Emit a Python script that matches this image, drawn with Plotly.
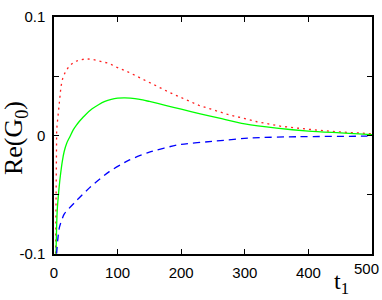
import plotly.graph_objects as go

# Red dotted curve
t_red = [2, 2.5, 3, 3.5, 4.2, 5.8, 7.4, 8.5, 11, 13.6, 18, 24, 32, 40, 50, 61, 71, 87, 97,
         113, 131, 149, 183, 228, 272, 319, 358, 410, 450, 500]
v_red = [-0.13, -0.08, -0.045, -0.02, 0.005, 0.0138, 0.022, 0.033, 0.0415, 0.048, 0.054,
         0.0586, 0.0622, 0.0636, 0.0647, 0.0641, 0.063, 0.0608, 0.058, 0.0545, 0.0498, 0.045,
         0.036, 0.0254, 0.018, 0.0116, 0.0077, 0.0047, 0.003, 0.0015]

# Green solid curve
t_green = [2.5, 3, 4, 5, 6, 8, 10, 13, 16, 20, 25, 30, 35, 40, 45, 50, 60, 70, 80, 90, 100,
           110, 120, 135, 150, 175, 200, 230, 260, 300, 350, 400, 450, 500]
v_green = [-0.125, -0.105, -0.08, -0.064, -0.056, -0.044, -0.034, -0.022, -0.0135, -0.0065,
           -0.001, 0.0045, 0.0085, 0.012, 0.015, 0.0178, 0.0225, 0.026, 0.0288, 0.0305, 0.0315,
           0.0318, 0.0316, 0.0305, 0.0287, 0.0255, 0.0222, 0.0183, 0.0146, 0.0098, 0.0062,
           0.0037, 0.0022, 0.0008]

# Blue dashed curve
t_blue = [2.5, 3.5, 4.8, 5.8, 8.5, 16, 32, 58, 87, 118, 150, 196, 254, 311, 384, 483, 500]
v_blue = [-0.13, -0.105, -0.095, -0.0885, -0.0775, -0.0664, -0.0568, -0.043, -0.0305, -0.0208,
          -0.014, -0.0078, -0.0047, -0.002, -0.001, -0.0006, -0.0005]

x_ticks = [0, 100, 200, 300, 400, 500]
x_ticktext = ["0", "100", "200", "300", "400", " "]
last_x_label = "500"
y_ticks = [-0.1, -0.05, 0, 0.05, 0.1]
y_ticktext = ["-0.1", " ", "0", " ", "0.1"]

fig = go.Figure()
fig.add_trace(go.Scatter(x=t_red, y=v_red, mode="lines",
                         line=dict(color="#ff2020", width=1.3, dash="2px,4px")))
fig.add_trace(go.Scatter(x=t_green, y=v_green, mode="lines",
                         line=dict(color="#00ff00", width=1.3, shape="spline", smoothing=0.8)))
fig.add_trace(go.Scatter(x=t_blue, y=v_blue, mode="lines",
                         line=dict(color="#0000ff", width=1.3, dash="7px,5px", shape="spline", smoothing=0.6)))

tick_font = dict(family="Liberation Sans, Arial, sans-serif", size=15, color="black")
axis_common = dict(showline=True, linecolor="black", linewidth=1.5, mirror="ticks",
                   ticks="inside", ticklen=5, tickcolor="black", tickwidth=1,
                   showgrid=False, zeroline=False, tickfont=tick_font,
                   ticklabeloverflow="allow")

fig.update_layout(
    width=382, height=300,
    margin=dict(l=54, r=8, t=13, b=46),
    paper_bgcolor="white", plot_bgcolor="white",
    showlegend=False,
    xaxis=dict(range=[0, 500], tickvals=x_ticks, ticktext=x_ticktext, ticklabelstandoff=4, **axis_common),
    yaxis=dict(range=[-0.1, 0.1], tickvals=y_ticks, ticktext=y_ticktext, ticklabelstandoff=4, **axis_common),
    annotations=[
        dict(text=last_x_label, xref="x", yref="paper", x=500, y=0, xshift=-6, yshift=-14,
             xanchor="center", yanchor="middle", showarrow=False, font=tick_font),
        dict(text="Re(G<sub>0</sub>)", xref="paper", yref="paper", x=-0.122, y=0.49,
             xanchor="center", yanchor="middle", textangle=-90, showarrow=False,
             font=dict(family="Liberation Serif, Times New Roman, serif", size=26, color="black")),
        dict(text="t<sub>1</sub>", xref="paper", yref="paper", x=0.903, y=-0.124,
             xanchor="center", yanchor="middle", showarrow=False,
             font=dict(family="Liberation Serif, Times New Roman, serif", size=24, color="black")),
    ],
)

fig.write_html("out.html", config={"displayModeBar": False},
               post_script="document.body.style.margin='0';")
